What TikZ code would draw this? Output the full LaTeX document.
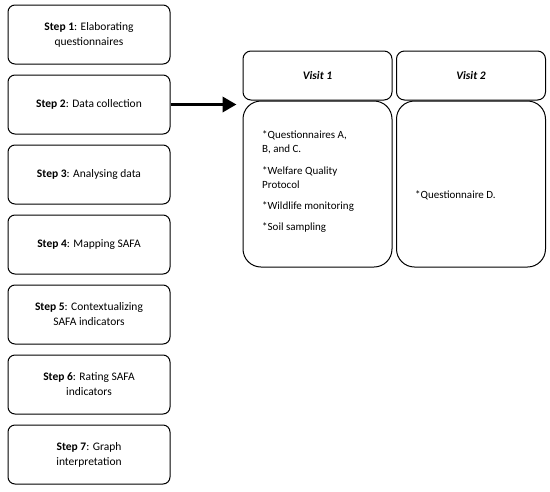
\documentclass[tikz,border=0pt]{standalone}
\usepackage{fontspec}
\setmainfont{Carlito}
\usetikzlibrary{positioning,arrows.meta}
\tikzset{
  stepbox/.style={draw, line width=1pt, rounded corners=7pt, minimum width=162pt, minimum height=59pt, align=center, font=\fontsize{11.5}{15}\selectfont},
  visithead/.style={draw, line width=1pt, rounded corners=8pt, minimum width=149pt, minimum height=49pt, font=\fontsize{11.5}{14}\selectfont\bfseries\itshape},
  visitbody/.style={draw, line width=1pt, rounded corners=18pt, minimum width=149pt, minimum height=166pt},
  itemtext/.style={align=left, font=\fontsize{11}{14}\selectfont, inner sep=0pt}
}
\begin{document}
\begin{tikzpicture}[x=1pt, y=1pt]
\useasboundingbox (0,0) rectangle (550,-491);
% the seven steps
\foreach \i/\t in {1/{\textbf{Step 1}: Elaborating\\questionnaires},
                   2/{\textbf{Step 2}: Data collection},
                   3/{\textbf{Step 3}: Analysing data},
                   4/{\textbf{Step 4}: Mapping SAFA},
                   5/{\textbf{Step 5}: Contextualizing\\SAFA indicators},
                   6/{\textbf{Step 6}: Rating SAFA\\indicators},
                   7/{\textbf{Step 7}: Graph\\interpretation}}
{
    \node[stepbox] (s\i) at (89, {-34.5-70*(\i-1)}) {\t};
}
% the two visits
\node[visithead] (v1head) at (317.5,-75.5) {Visit 1};
\node[visithead] (v2head) at (471,-75.5) {Visit 2};
\node[visitbody, below=0pt of v1head] (v1body) {};
\node[visitbody, below=0pt of v2head] (v2body) {};
\node[itemtext, anchor=north west] (v1items) at (262,-130)
  {*Questionnaires A,\\B, and C.\\[8pt]*Welfare Quality\\Protocol\\[7pt]*Wildlife monitoring\\[7pt]*Soil sampling};
\node[itemtext, anchor=west] (v2items) at (415,-195) {*Questionnaire D.};
\draw[line width=3.5pt, -{Triangle[length=14pt, width=15pt]}, shorten >=6pt]
  (s2.east) -- (s2.east -| v1body.west);
\end{tikzpicture}
\end{document}
